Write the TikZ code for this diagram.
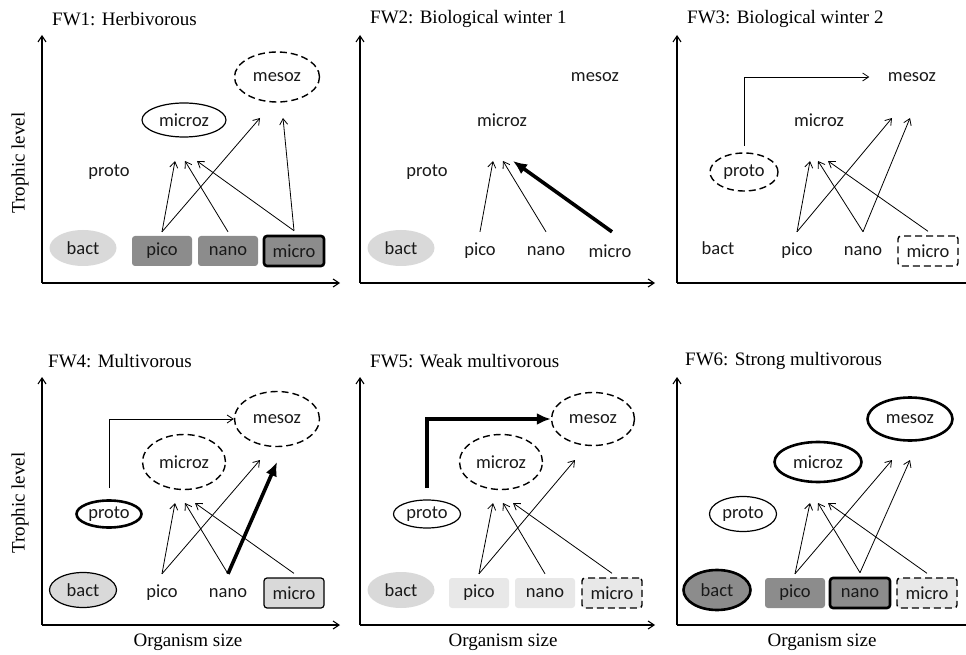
\documentclass[tikz,border=0pt]{standalone}
\usepackage{fontspec}
\setmainfont{Liberation Serif}
\newfontfamily\carl{Carlito}
\usetikzlibrary{shapes.geometric,arrows.meta}
\newcommand\labfont{\carl\fontsize{18.5}{20}\selectfont}
\newcommand\capfont{\fontsize{19}{22}\selectfont}

\begin{document}
\begin{tikzpicture}[x=1pt, y=1pt,
	lab/.style={font=\labfont, text=black!90, inner sep=0pt},
	box/.style={lab, rectangle, rounded corners=3pt, minimum width=60pt, minimum height=30pt},
	oval/.style={lab, ellipse, minimum width=67pt, minimum height=36pt},
	dark/.style={fill=black!45},
	light/.style={fill=black!15},
	pale/.style={fill=black!9},
	rim/.style={draw, line width=1.2pt},
	dashrim/.style={draw, line width=1.4pt, dash pattern=on 7pt off 4pt},
	boldrim/.style={draw, line width=2.6pt},
	feed/.style={-{Straight Barb[length=6pt,width=8pt]}, line width=0.8pt},
	heavy/.style={-{Latex[length=14pt,width=12pt]}, line width=3.6pt},
	axisline/.style={-{Straight Barb[length=6pt,width=8pt]}, line width=1.1pt},
	title/.style={anchor=west, inner sep=0pt, font=\capfont},
	ylab/.style={rotate=90, inner sep=0pt, font=\capfont},
	xlab/.style={inner sep=0pt, font=\capfont}
	]
	\useasboundingbox (0,0) rectangle (966,654);

	\begin{scope}[shift={(42,371)}]
		\draw[axisline] (0,0) -- (0,248);
		\draw[axisline] (0,0) -- (298,0);
		\node[title] (t1) at (10,264) {FW1: Herbivorous};
		\node[ylab] (y1) at (-22,120) {Trophic level};
		\node[oval, light] (bact1) at (41,35) {bact};
		\node[box, dark] (pico1) at (120,32) {pico};
		\node[box, dark] (nano1) at (186,32) {nano};
		\node[box, dark, boldrim] (micro1) at (252,32) {micro};
		\node[lab] (proto1) at (67,111) {proto};
		\node[oval, rim, minimum width=84pt, minimum height=34pt] (microz1) at (142,163) {microz};
		\node[oval, dashrim, minimum width=85pt, minimum height=50pt] (mesoz1) at (235,206) {mesoz};

		\draw[feed] ([yshift=4pt]pico1.north) -- ([xshift=-9pt,yshift=-41pt]microz1.center);
		\draw[feed] ([yshift=4pt]pico1.north) -- ([xshift=-17pt,yshift=-41pt]mesoz1.center);
		\draw[feed] ([yshift=4pt]nano1.north) -- ([xshift=1pt,yshift=-41pt]microz1.center);
		\draw[feed] ([yshift=4pt]micro1.north) -- ([xshift=13pt,yshift=-41pt]microz1.center);
		\draw[feed] ([yshift=4pt]micro1.north) -- ([xshift=6pt,yshift=-41pt]mesoz1.center);
	\end{scope}

	\begin{scope}[shift={(360,371)}]
		\draw[axisline] (0,0) -- (0,248);
		\draw[axisline] (0,0) -- (295,0);
		\node[title] (t2) at (10,264) {FW2: Biological winter 1};
		\node[oval, light] (bact2) at (41,35) {bact};
		\node[box] (pico2) at (120,32) {pico};
		\node[box] (nano2) at (186,32) {nano};
		\node[box] (micro2) at (250,32) {micro};
		\node[lab] (proto2) at (67,111) {proto};
		\node[lab] (microz2) at (142,163) {microz};
		\node[lab] (mesoz2) at (235,206) {mesoz};

		\draw[feed] ([yshift=4pt]pico2.north) -- ([xshift=-9pt,yshift=-41pt]microz2.center);
		\draw[feed] ([yshift=4pt]nano2.north) -- ([xshift=1pt,yshift=-41pt]microz2.center);
		\draw[heavy] ([xshift=2pt,yshift=4pt]micro2.north) -- ([xshift=11pt,yshift=-41pt]microz2.center);
	\end{scope}

	\begin{scope}[shift={(677,371)}]
		\draw[axisline] (0,0) -- (0,248);
		\draw[axisline] (0,0) -- (300,0);
		\node[title] (t3) at (10,264) {FW3: Biological winter 2};
		\node[lab] (bact3) at (41,35) {bact};
		\node[box] (pico3) at (120,32) {pico};
		\node[box] (nano3) at (186,32) {nano};
		\node[box, dashrim] (micro3) at (251,32) {micro};
		\node[oval, dashrim, minimum width=68pt, minimum height=38pt] (proto3) at (67,111) {proto};
		\node[lab] (microz3) at (142,163) {microz};
		\node[oval, minimum width=85pt, minimum height=50pt] (mesoz3) at (235,206) {mesoz};

		\draw[feed] ([yshift=26pt]proto3.center) |- (mesoz3.west);
		\draw[feed] ([yshift=4pt]pico3.north) -- ([xshift=-9pt,yshift=-41pt]microz3.center);
		\draw[feed] ([yshift=4pt]pico3.north) -- ([xshift=-20pt,yshift=-41pt]mesoz3.center);
		\draw[feed] ([yshift=4pt]nano3.north) -- ([xshift=-1pt,yshift=-41pt]microz3.center);
		\draw[feed] ([yshift=4pt]nano3.north) -- ([xshift=-2pt,yshift=-41pt]mesoz3.center);
		\draw[feed] ([yshift=4pt]micro3.north) -- ([xshift=9pt,yshift=-41pt]microz3.center);
	\end{scope}

	\begin{scope}[shift={(42,29)}]
		\draw[axisline] (0,0) -- (0,248);
		\draw[axisline] (0,0) -- (298,0);
		\node[title] (t4) at (6,264) {FW4: Multivorous};
		\node[ylab] (y4) at (-22,122) {Trophic level};
		\node[xlab] (x4) at (146,-17) {Organism size};
		\node[oval, light, rim, minimum height=35pt] (bact4) at (41,35) {bact};
		\node[box] (pico4) at (120,32) {pico};
		\node[box] (nano4) at (186,32) {nano};
		\node[box, light, rim] (micro4) at (252,32) {micro};
		\node[oval, boldrim, minimum width=65pt, minimum height=27pt] (proto4) at (67,111) {proto};
		\node[oval, dashrim, minimum width=83pt, minimum height=55pt] (microz4) at (142,163) {microz};
		\node[oval, dashrim, minimum width=85pt, minimum height=55pt] (mesoz4) at (235,206) {mesoz};

		\draw[feed] ([yshift=26pt]proto4.center) |- (mesoz4.west);
		\draw[feed] ([yshift=4pt]pico4.north) -- ([xshift=-9pt,yshift=-41pt]microz4.center);
		\draw[feed] ([yshift=4pt]pico4.north) -- ([xshift=-17pt,yshift=-41pt]mesoz4.center);
		\draw[feed] ([yshift=4pt]nano4.north) -- ([xshift=1pt,yshift=-41pt]microz4.center);
		\draw[heavy] ([yshift=4pt]nano4.north) -- ([yshift=-43pt]mesoz4.center);
		\draw[feed] ([yshift=4pt]micro4.north) -- ([xshift=11pt,yshift=-41pt]microz4.center);
	\end{scope}

	\begin{scope}[shift={(360,29)}]
		\draw[axisline] (0,0) -- (0,248);
		\draw[axisline] (0,0) -- (295,0);
		\node[title] (t5) at (10,264) {FW5: Weak multivorous};
		\node[xlab] (x5) at (143,-17) {Organism size};
		\node[oval, light] (bact5) at (41,35) {bact};
		\node[box, pale] (pico5) at (119,32) {pico};
		\node[box, pale] (nano5) at (185,32) {nano};
		\node[box, pale, dashrim] (micro5) at (252,32) {micro};
		\node[oval, rim, minimum height=28pt] (proto5) at (67,111) {proto};
		\node[oval, dashrim, minimum width=83pt, minimum height=55pt] (microz5) at (141,163) {microz};
		\node[oval, dashrim, minimum width=83pt, minimum height=53pt] (mesoz5) at (233,206) {mesoz};

		\draw[heavy] ([yshift=26pt]proto5.center) |- (mesoz5.west);
		\draw[feed] ([yshift=4pt]pico5.north) -- ([xshift=-8pt,yshift=-41pt]microz5.center);
		\draw[feed] ([yshift=4pt]pico5.north) -- ([xshift=-18pt,yshift=-41pt]mesoz5.center);
		\draw[feed] ([yshift=4pt]nano5.north) -- ([xshift=2pt,yshift=-41pt]microz5.center);
		\draw[feed] ([yshift=4pt]micro5.north) -- ([xshift=12pt,yshift=-41pt]microz5.center);
	\end{scope}

	\begin{scope}[shift={(677,29)}]
		\draw[axisline] (0,0) -- (0,248);
		\draw[axisline] (0,0) -- (300,0);
		\node[title] (t6) at (8,264) {FW6: Strong multivorous};
		\node[xlab] (x6) at (145,-17) {Organism size};
		\node[oval, dark, boldrim, minimum height=40pt] (bact6) at (40,35) {bact};
		\node[box, dark] (pico6) at (118,32) {pico};
		\node[box, dark, boldrim] (nano6) at (183,32) {nano};
		\node[box, pale, dashrim] (micro6) at (250,32) {micro};
		\node[oval, rim, minimum height=35pt] (proto6) at (66,111) {proto};
		\node[oval, boldrim, minimum width=87pt, minimum height=40pt] (microz6) at (141,163) {microz};
		\node[oval, boldrim, minimum width=85pt, minimum height=43pt] (mesoz6) at (233,206) {mesoz};

		\draw[feed] ([yshift=4pt]pico6.north) -- ([xshift=-8pt,yshift=-41pt]microz6.center);
		\draw[feed] ([yshift=4pt]pico6.north) -- ([xshift=-18pt,yshift=-41pt]mesoz6.center);
		\draw[feed] ([yshift=4pt]nano6.north) -- ([xshift=0pt,yshift=-41pt]microz6.center);
		\draw[feed] ([yshift=4pt]nano6.north) -- ([xshift=0pt,yshift=-41pt]mesoz6.center);
		\draw[feed] ([yshift=4pt]micro6.north) -- ([xshift=10pt,yshift=-41pt]microz6.center);
	\end{scope}
\end{tikzpicture}
\end{document}
